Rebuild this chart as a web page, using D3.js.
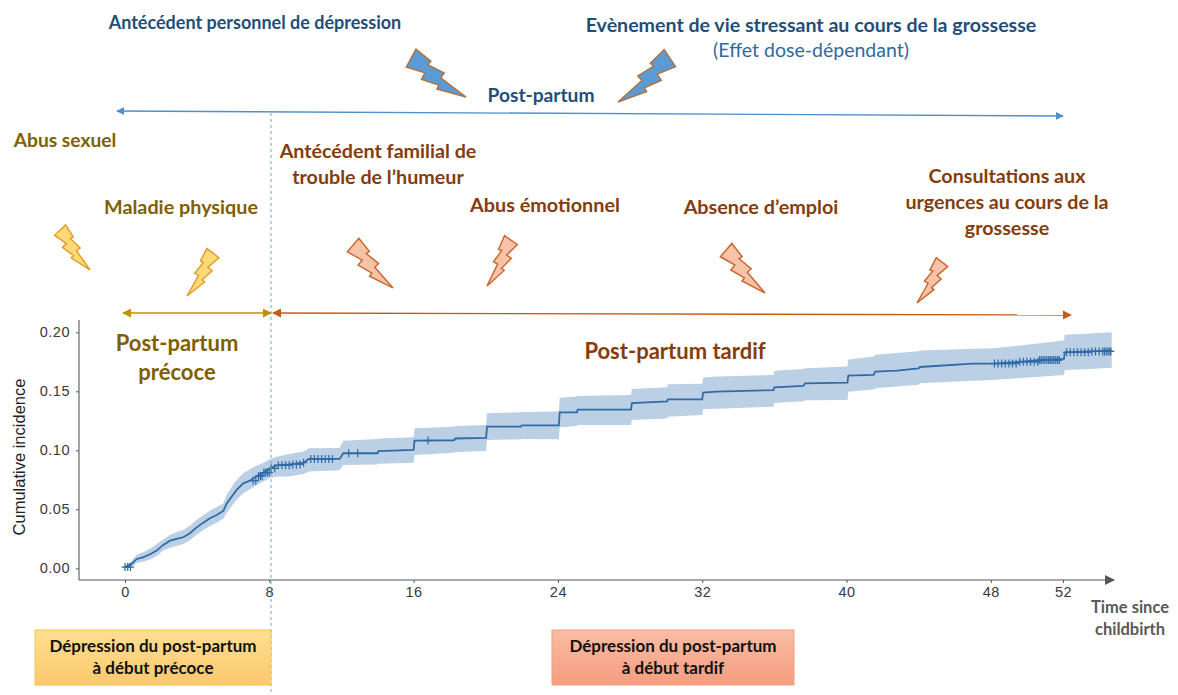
<!DOCTYPE html>
<html>
<head>
<meta charset="utf-8">
<script src="https://cdnjs.cloudflare.com/ajax/libs/d3/7.8.5/d3.min.js"></script>
<style>
	html, body { margin: 0; padding: 0; background: #fff; }
	svg { display: block; }
	text { font-family: Lato, "Open Sans", sans-serif; }
	.bold { font-weight: 700; text-anchor: middle; }
	.axis text { font-family: "Liberation Sans", Arial, sans-serif; font-size: 14.5px; letter-spacing: 0.5px; fill: #3a3a3a; }
	.axis line { stroke: #555; }
</style>
</head>
<body>
<div id="chart"></div>
<script>

// cumulative incidence (a repeated week is a jump)
let weeks = [0, 0.37, 0.65, 1, 1.39, 1.76, 2.12, 2.5, 2.86, 3.23, 3.6, 3.97, 4.34, 4.71, 5.08, 5.45, 5.64, 5.91, 6.19, 6.56, 6.93, 7.3, 7.67, 8.04, 8.4, 9.15, 9.9, 10.2, 11.9, 12.1, 14, 14.05, 16, 16.05, 18.25, 18.3, 20.02, 20.07, 21.95, 22, 24.05, 24.1, 25.05, 25.1, 28.05, 28.1, 30.05, 30.1, 32, 32.05, 32.8, 35.95, 36, 37.6, 37.7, 40.05, 40.1, 41.5, 41.6, 42.8, 44, 44.07, 47, 48.1, 49.5, 50.7, 52.05, 52.1, 53.5, 54.7];
let incidence = [0.001, 0.0037, 0.0079, 0.0093, 0.0119, 0.015, 0.0198, 0.0234, 0.0249, 0.0263, 0.0297, 0.0347, 0.0387, 0.0424, 0.0452, 0.0486, 0.055, 0.0607, 0.0664, 0.072, 0.0743, 0.0782, 0.0811, 0.0847, 0.0873, 0.088, 0.0895, 0.0927, 0.0927, 0.0975, 0.0975, 0.0994, 0.1003, 0.1082, 0.1085, 0.11, 0.1105, 0.12, 0.12, 0.1212, 0.1212, 0.1322, 0.1322, 0.1345, 0.1345, 0.14, 0.1415, 0.1432, 0.1432, 0.1489, 0.1497, 0.151, 0.1534, 0.1545, 0.1568, 0.1573, 0.1633, 0.164, 0.1667, 0.1675, 0.1695, 0.1706, 0.1734, 0.1735, 0.175, 0.1765, 0.1775, 0.183, 0.1838, 0.1845];
let lower = [0, 0.0008, 0.0045, 0.0055, 0.0075, 0.0105, 0.015, 0.0175, 0.019, 0.0205, 0.0238, 0.0285, 0.0325, 0.0358, 0.0385, 0.042, 0.047, 0.0525, 0.058, 0.0635, 0.067, 0.0705, 0.0735, 0.0765, 0.0775, 0.078, 0.08, 0.082, 0.083, 0.0876, 0.088, 0.0885, 0.0895, 0.096, 0.098, 0.0985, 0.0995, 0.1088, 0.1092, 0.1095, 0.1093, 0.1195, 0.1205, 0.1215, 0.1215, 0.1257, 0.127, 0.1285, 0.13, 0.1347, 0.1352, 0.137, 0.14, 0.1415, 0.1425, 0.1427, 0.1497, 0.1515, 0.1525, 0.154, 0.1555, 0.1568, 0.159, 0.1596, 0.161, 0.1624, 0.1638, 0.168, 0.169, 0.17];
let upper = [0.002, 0.0065, 0.0115, 0.0135, 0.0165, 0.0205, 0.0245, 0.0285, 0.0305, 0.0325, 0.036, 0.041, 0.045, 0.049, 0.052, 0.055, 0.0625, 0.069, 0.075, 0.0805, 0.084, 0.087, 0.0895, 0.0925, 0.0945, 0.097, 0.099, 0.1017, 0.102, 0.108, 0.1095, 0.11, 0.111, 0.1186, 0.12, 0.1205, 0.1215, 0.1314, 0.1322, 0.1325, 0.1328, 0.1446, 0.1455, 0.146, 0.1469, 0.152, 0.1535, 0.156, 0.1565, 0.1616, 0.1625, 0.1638, 0.1675, 0.169, 0.1695, 0.171, 0.177, 0.1795, 0.181, 0.1825, 0.184, 0.1845, 0.186, 0.1864, 0.1885, 0.1907, 0.193, 0.198, 0.199, 0.2];

// censored observations
let censored = [0, 0.15, 0.3, 7.1, 7.25, 7.4, 7.5, 7.6, 7.7, 7.8, 7.9, 8, 8.1, 8.3, 8.5, 8.7, 8.9, 9.1, 9.3, 9.5, 9.7, 9.9, 10.3, 10.5, 10.7, 10.9, 11.1, 11.3, 11.5, 12.4, 12.9, 16.8, 48.2, 48.4, 48.6, 48.8, 49, 49.2, 49.4, 49.6, 49.8, 50, 50.2, 50.4, 50.6, 50.7, 50.8, 50.9, 51, 51.1, 51.2, 51.3, 51.4, 51.5, 51.6, 51.7, 51.8, 52.2, 52.4, 52.6, 52.8, 53, 53.2, 53.4, 53.6, 53.8, 54, 54.2, 54.3, 54.4, 54.5, 54.6, 54.65];

let xTicks = [0, 8, 16, 24, 32, 40, 48, 52];
let yTicks = [0, 0.05, 0.1, 0.15, 0.2];

// annotation text: [lines, x, first baseline, line step, size, color]
let blue = "#1f4e79", gold = "#7f6000", brown = "#843c0c";
let labels = [
	[["Antécédent personnel de dépression"], 255, 29, 0, 18, blue],
	[["Evènement de vie stressant au cours de la grossesse"], 811, 32, 0, 19.6, blue],
	[["Post-partum"], 541, 102, 0, 19.2, blue],
	[["Abus sexuel"], 65, 147, 0, 19.2, gold],
	[["Maladie physique"], 181, 214, 0, 19.8, gold],
	[["Antécédent familial de", "trouble de l\u2019humeur"], 378, 158, 26, 19.7, brown],
	[["Abus émotionnel"], 545, 212, 0, 19.8, brown],
	[["Absence d\u2019emploi"], 761, 214, 0, 19.8, brown],
	[["Consultations aux", "urgences au cours de la", "grossesse"], 1007, 183, 26, 19.7, brown],
	[["Post-partum", "précoce"], 177, 351, 29, 22, gold],
	[["Post-partum tardif"], 675, 359, 0, 22, brown],
	[["Time since", "childbirth"], 1130, 613, 22, 16.5, "#595959"]
];

// bolts: head x, head y, tip x, tip y, mirrored, fill, stroke
let bolts = [
	[411, 58, 466, 97, false, "#5b9bd5", "#b5703c"],
	[670, 58, 618, 102, true, "#5b9bd5", "#b5703c"],
	[60, 230, 90, 270, false, "#ffd976", "#e39a2d"],
	[213, 253, 187, 296, true, "#ffd976", "#e39a2d"],
	[353, 245, 393, 288, false, "#f6c3a8", "#c8652a"],
	[511, 240, 487, 286, true, "#f6c3a8", "#c8652a"],
	[726, 250, 765, 293, false, "#f6c3a8", "#c8652a"],
	[942, 262, 917, 303, true, "#f6c3a8", "#c8652a"]
];
// one bolt outline, along its axis from head (0) to tip (1)
let boltShape = [[-0.016, -0.15], [0.27, -0.13], [0.26, -0.065], [0.53, -0.105], [0.53, -0.015], [1, 0], [0.58, 0.155], [0.57, 0.09], [0.31, 0.17], [0.295, 0.06], [0.02, 0.15]];


let width = 1178, height = 695;

let svg = d3.select("#chart").append("svg")
	.attr("width", width)
	.attr("height", height);

let defs = svg.append("defs");

function arrowMarker(id, color, size) {
	defs.append("marker")
		.attr("id", id)
		.attr("viewBox", "0 0 10 10")
		.attr("refX", 9).attr("refY", 5)
		.attr("markerUnits", "userSpaceOnUse")
		.attr("markerWidth", size).attr("markerHeight", size)
		.attr("orient", "auto-start-reverse")
		.append("path")
		.attr("d", "M0,0 L10,5 L0,10 Z")
		.attr("fill", color);
}
arrowMarker("arrowBlue", "#4f8fca", 8);
arrowMarker("arrowGold", "#bf9000", 9);
arrowMarker("arrowOrange", "#c55a11", 9);
arrowMarker("arrowAxis", "#555", 10);

function boxGradient(id, top, bottom) {
	let g = defs.append("linearGradient").attr("id", id).attr("x1", 0).attr("y1", 0).attr("x2", 0).attr("y2", 1);
	g.append("stop").attr("offset", "0%").attr("stop-color", top);
	g.append("stop").attr("offset", "100%").attr("stop-color", bottom);
}
boxGradient("boxYellow", "#ffdf91", "#fbc86e");
boxGradient("boxOrange", "#f9bda6", "#f59c7e");


// scales
let x = d3.scaleLinear().domain([0, 52]).range([125, 1063]);
let y = d3.scaleLinear().domain([0, 0.2]).range([568.3, 332.3]);
let bottom = 580;

let rows = weeks.map((w, i) => ({w: w, inc: incidence[i], lo: lower[i], hi: upper[i]}));

// confidence band and curve
let band = d3.area()
	.x(d => x(d.w))
	.y0(d => y(d.lo))
	.y1(d => y(d.hi));

let line = d3.line()
	.x(d => x(d.w))
	.y(d => y(d.inc));

svg.append("path").datum(rows)
	.attr("d", band)
	.attr("fill", "#bcd0e5");

svg.append("path").datum(rows)
	.attr("d", line)
	.attr("fill", "none")
	.attr("stroke", "#2f6ba6")
	.attr("stroke-width", 1.8);

// censor crosses sit on the curve
let stepAt = d3.bisector(d => d.w).right;
svg.append("g").selectAll("path")
	.data(censored)
	.join("path")
	.attr("d", d => {
		let cx = x(d), cy = y(rows[Math.max(0, stepAt(rows, d) - 1)].inc);
		return "M" + (cx - 3.5) + "," + cy + "H" + (cx + 3.5) + "M" + cx + "," + (cy - 4) + "V" + (cy + 4);
	})
	.attr("stroke", "#2f6ba6")
	.attr("stroke-width", 1.2)
	.attr("fill", "none");

// axes
let xAxis = svg.append("g")
	.attr("class", "axis")
	.attr("transform", "translate(0," + bottom + ")")
	.call(d3.axisBottom(x).tickValues(xTicks).tickFormat(d3.format("d")).tickSize(3).tickPadding(4));
xAxis.select(".domain").remove();

let yAxis = svg.append("g")
	.attr("class", "axis")
	.attr("transform", "translate(79,0)")
	.call(d3.axisLeft(y).tickValues(yTicks).tickFormat(d3.format(".2f")).tickSize(3).tickPadding(6));
yAxis.select(".domain").remove();

svg.append("line")
	.attr("x1", 79).attr("x2", 79).attr("y1", 320).attr("y2", bottom)
	.attr("stroke", "#666").attr("stroke-width", 1.2);
svg.append("line")
	.attr("x1", 79).attr("x2", 1114).attr("y1", bottom).attr("y2", bottom)
	.attr("stroke", "#555").attr("stroke-width", 1.2)
	.attr("marker-end", "url(#arrowAxis)");

svg.append("text")
	.attr("transform", "translate(25,457) rotate(-90)")
	.attr("text-anchor", "middle")
	.style("font-family", '"Liberation Sans", Arial, sans-serif')
	.style("font-size", "16.5px")
	.attr("fill", "#222")
	.text("Cumulative incidence");

// week 8 separator
svg.append("line")
	.attr("x1", 271).attr("x2", 271).attr("y1", 113).attr("y2", height)
	.attr("stroke", "#6ba5d6").attr("stroke-width", 1)
	.attr("stroke-dasharray", "3,3");

// period arrows
svg.append("line")
	.attr("x1", 117).attr("y1", 111).attr("x2", 1063).attr("y2", 116)
	.attr("stroke", "#4f8fca").attr("stroke-width", 1.4)
	.attr("marker-start", "url(#arrowBlue)").attr("marker-end", "url(#arrowBlue)");
svg.append("line")
	.attr("x1", 123).attr("y1", 313).attr("x2", 271).attr("y2", 313)
	.attr("stroke", "#bf9000").attr("stroke-width", 1.6)
	.attr("marker-start", "url(#arrowGold)").attr("marker-end", "url(#arrowGold)");
svg.append("line")
	.attr("x1", 273).attr("y1", 313).attr("x2", 1071).attr("y2", 315)
	.attr("stroke", "#c55a11").attr("stroke-width", 1.4)
	.attr("marker-start", "url(#arrowOrange)").attr("marker-end", "url(#arrowOrange)");

// lightning bolts
svg.append("g").selectAll("polygon")
	.data(bolts)
	.join("polygon")
	.attr("points", boltShape.map(p => p.join(",")).join(" "))
	.attr("transform", d => {
		let dx = d[2] - d[0], dy = d[3] - d[1];
		let len = Math.sqrt(dx * dx + dy * dy);
		let angle = Math.atan2(dy, dx) * 180 / Math.PI;
		return "translate(" + d[0] + "," + d[1] + ") rotate(" + angle + ") scale(" + len + "," + (d[4] ? -len : len) + ")";
	})
	.attr("fill", d => d[5])
	.attr("stroke", d => d[6])
	.attr("stroke-width", 1.4)
	.attr("vector-effect", "non-scaling-stroke")
	.attr("stroke-linejoin", "miter");

// labels
labels.forEach(l => {
	let t = svg.append("text")
		.attr("class", "bold")
		.attr("fill", l[5])
		.style("font-size", l[4] + "px");
	l[0].forEach((s, i) => {
		t.append("tspan").attr("x", l[1]).attr("y", l[2] + i * l[3]).text(s);
	});
});

svg.append("text")
	.attr("x", 811).attr("y", 57)
	.attr("text-anchor", "middle")
	.attr("fill", "#2e6a9e")
	.style("font-size", "19.5px")
	.text("(Effet dose-dépendant)");

// bottom boxes
let boxes = [
	{x0: 35, x1: 271, fill: "url(#boxYellow)", stroke: "#f5c453", text: ["Dépression du post-partum", "à début précoce"]},
	{x0: 552, x1: 794, fill: "url(#boxOrange)", stroke: "#f0a07e", text: ["Dépression du post-partum", "à début tardif"]}
];
boxes.forEach(b => {
	svg.append("rect")
		.attr("x", b.x0).attr("y", 630)
		.attr("width", b.x1 - b.x0).attr("height", 55)
		.attr("fill", b.fill)
		.attr("stroke", b.stroke);
	b.text.forEach((s, i) => {
		svg.append("text")
			.attr("class", "bold")
			.attr("x", (b.x0 + b.x1) / 2)
			.attr("y", 652 + i * 22)
			.attr("fill", "#111")
			.style("font-size", "17px")
			.text(s);
	});
});

</script>
</body>
</html>
